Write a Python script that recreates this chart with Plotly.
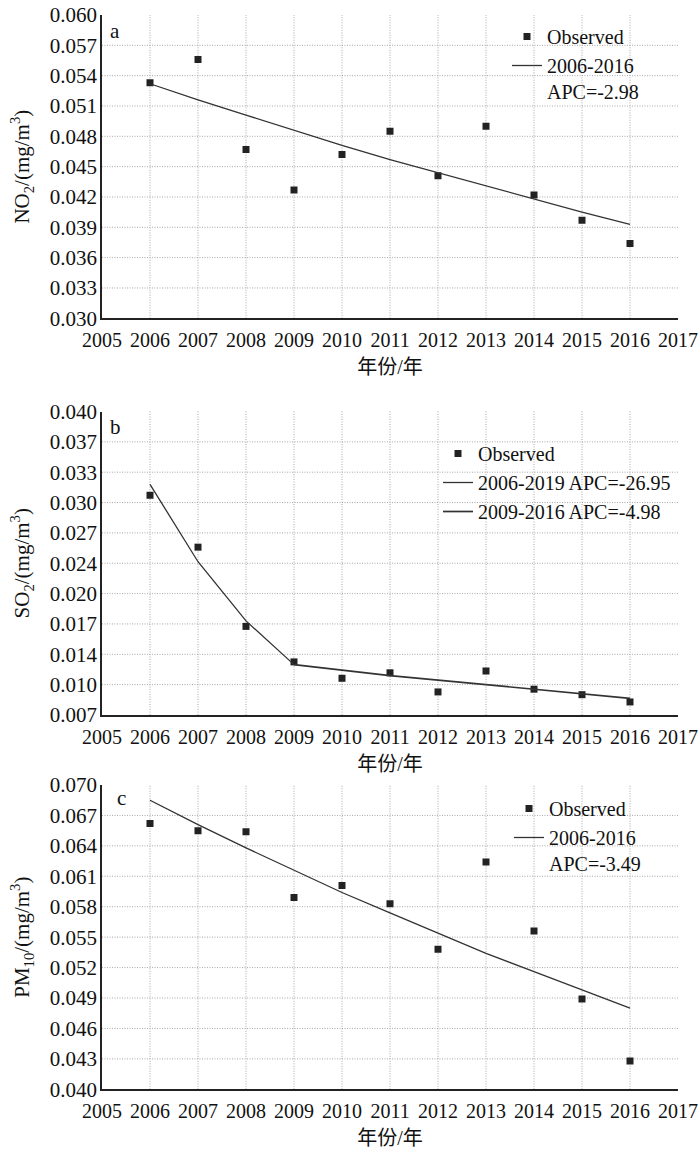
import plotly.graph_objects as go

years = [2006, 2007, 2008, 2009, 2010, 2011, 2012, 2013, 2014, 2015, 2016]

# Panel a: NO2
no2_obs = [0.0533, 0.0556, 0.0467, 0.0427, 0.0462, 0.0485, 0.0441, 0.0490, 0.0422, 0.0397, 0.0374]
no2_fit = [0.0532, 0.0516, 0.0501, 0.0486, 0.0471, 0.0457, 0.0444, 0.0431, 0.0418, 0.0405, 0.0393]

# Panel b: SO2
so2_obs = [0.0308, 0.0251, 0.0164, 0.0125, 0.0107, 0.0113, 0.0092, 0.0115, 0.0095, 0.0089, 0.0081]
so2_fit1_years = [2006, 2007, 2008, 2009]
so2_fit1 = [0.0320, 0.0235, 0.0170, 0.0122]
so2_fit2_years = [2009, 2010, 2011, 2012, 2013, 2014, 2015, 2016]
so2_fit2 = [0.0122, 0.0116, 0.0110, 0.0105, 0.0100, 0.0095, 0.0090, 0.0085]

# Panel c: PM10
pm_obs = [0.0662, 0.0655, 0.0654, 0.0589, 0.0601, 0.0583, 0.0538, 0.0624, 0.0556, 0.0489, 0.0428]
pm_fit = [0.0685, 0.0661, 0.0638, 0.0616, 0.0594, 0.0574, 0.0554, 0.0534, 0.0516, 0.0498, 0.0480]

x_ticks = [2005, 2006, 2007, 2008, 2009, 2010, 2011, 2012, 2013, 2014, 2015, 2016, 2017]

a_ticks = [0.030, 0.033, 0.036, 0.039, 0.042, 0.045, 0.048, 0.051, 0.054, 0.057, 0.060]
b_ticks = [0.0066667, 0.0100, 0.0133333, 0.0166667, 0.0200, 0.0233333, 0.0266667, 0.0300, 0.0333333, 0.0366667, 0.0400]
b_ticktext = ["0.007", "0.010", "0.014", "0.017", "0.020", "0.024", "0.027", "0.030", "0.033", "0.037", "0.040"]
c_ticks = [0.040, 0.043, 0.046, 0.049, 0.052, 0.055, 0.058, 0.061, 0.064, 0.067, 0.070]

FONT = "Liberation Serif, Noto Sans CJK SC, serif"
TXT = "#111111"
GRID = "#a8a8a8"
MK = dict(symbol="square", size=7, color="#222222")
LN = dict(color="#333333", width=1.3)

W = 700
H = 1164

def px(xp):
    return xp / W

def py(yp):
    return 1 - yp / H

fig = go.Figure()

# panel a
fig.add_trace(go.Scatter(x=years, y=no2_obs, mode="markers", marker=MK, name="Observed",
                         xaxis="x", yaxis="y", legend="legend"))
fig.add_trace(go.Scatter(x=years, y=no2_fit, mode="lines", line=LN, name="2006-2016<br>APC=-2.98",
                         xaxis="x", yaxis="y", legend="legend"))
# panel b
fig.add_trace(go.Scatter(x=years, y=so2_obs, mode="markers", marker=MK, name="Observed",
                         xaxis="x2", yaxis="y2", legend="legend2"))
fig.add_trace(go.Scatter(x=so2_fit1_years, y=so2_fit1, mode="lines", line=LN, name="2006-2019 APC=-26.95",
                         xaxis="x2", yaxis="y2", legend="legend2"))
fig.add_trace(go.Scatter(x=so2_fit2_years, y=so2_fit2, mode="lines", line=dict(color="#333333", width=1.7),
                         name="2009-2016 APC=-4.98", xaxis="x2", yaxis="y2", legend="legend2"))
# panel c
fig.add_trace(go.Scatter(x=years, y=pm_obs, mode="markers", marker=MK, name="Observed",
                         xaxis="x3", yaxis="y3", legend="legend3"))
fig.add_trace(go.Scatter(x=years, y=pm_fit, mode="lines", line=LN, name="2006-2016<br>APC=-3.49",
                         xaxis="x3", yaxis="y3", legend="legend3"))

xdom = [px(102), px(678)]
doms = [
    [py(318.3), py(15)],
    [py(715), py(411.5)],
    [py(1089.3), py(785)],
]

def xax(anchor, dom):
    return dict(domain=dom, anchor=anchor, range=[2005, 2017], tickvals=x_ticks,
                showline=True, linecolor="#222222", linewidth=1.8, ticks="", ticklabelstandoff=3,
                showgrid=False, zeroline=False, automargin=False,
                tickfont=dict(family=FONT, size=20, color=TXT),
                title=dict(text="年份/年", font=dict(family=FONT, size=20, color=TXT), standoff=10))

def yax(anchor, dom, rng, tv, tt, title):
    return dict(domain=dom, anchor=anchor, range=rng, tickvals=tv, ticktext=tt,
                showline=True, linecolor="#222222", linewidth=1.8, ticks="", ticklabelstandoff=-1,
                showgrid=False, zeroline=False, automargin=False,
                tickfont=dict(family=FONT, size=21, color=TXT),
                title=dict(text=title, font=dict(family=FONT, size=21, color=TXT), standoff=14))

a_text = ["%.3f" % v for v in a_ticks]
c_text = ["%.3f" % v for v in c_ticks]

# fine dotted gridlines (none on the top edge or at 2017, as in the reference)
DOT = dict(color=GRID, width=1, dash="1px,1.5px")
shapes = []
for xr, yr, yt in (("x", "y", a_ticks), ("x2", "y2", b_ticks), ("x3", "y3", c_ticks)):
    for v in yt[1:-1]:
        shapes.append(dict(type="line", xref=xr + " domain", yref=yr, x0=0, x1=1, y0=v, y1=v,
                           line=DOT, layer="below"))
    for yv in years:
        shapes.append(dict(type="line", xref=xr, yref=yr + " domain", x0=yv, x1=yv, y0=0, y1=1,
                           line=DOT, layer="below"))

legend_common = dict(bgcolor="rgba(0,0,0,0)", borderwidth=0, xanchor="left", yanchor="top",
                     font=dict(family=FONT, size=20, color=TXT), tracegroupgap=0,
                     valign="top", itemwidth=30)

def panel_label(txt, xv, yv):
    return dict(text=txt, x=xv, y=yv, xref="paper", yref="paper", xanchor="center", yanchor="middle",
                showarrow=False, font=dict(family=FONT, size=21, color=TXT))

fig.update_layout(
    width=W, height=H,
    margin=dict(l=0, r=0, t=0, b=0, autoexpand=False),
    paper_bgcolor="white", plot_bgcolor="white",
    font=dict(family=FONT, color=TXT),
    xaxis=xax("y", xdom),
    yaxis=yax("x", doms[0], [0.030, 0.060], a_ticks, a_text, "NO<sub>2</sub>/(mg/m<sup>3</sup>)"),
    xaxis2=xax("y2", xdom),
    yaxis2=yax("x2", doms[1], [0.0066667, 0.040], b_ticks, b_ticktext, "SO<sub>2</sub>/(mg/m<sup>3</sup>)"),
    xaxis3=xax("y3", xdom),
    yaxis3=yax("x3", doms[2], [0.040, 0.070], c_ticks, c_text, "PM<sub>10</sub>/(mg/m<sup>3</sup>)"),
    legend=dict(x=px(507), y=py(17), **legend_common),
    legend2=dict(x=px(438), y=py(434), **legend_common),
    legend3=dict(x=px(509), y=py(789), **legend_common),
    showlegend=True,
    shapes=shapes,
    annotations=[
        panel_label("a", px(115), py(30.5)),
        panel_label("b", px(116), py(426.5)),
        panel_label("c", px(121.5), py(797.5)),
    ],
)

# remove the browser's default 8px body margin so the figure fills the window exactly
fig.write_html("out.html", config={"displayModeBar": False},
               post_script="document.body.style.margin='0';document.body.style.overflow='hidden';")
